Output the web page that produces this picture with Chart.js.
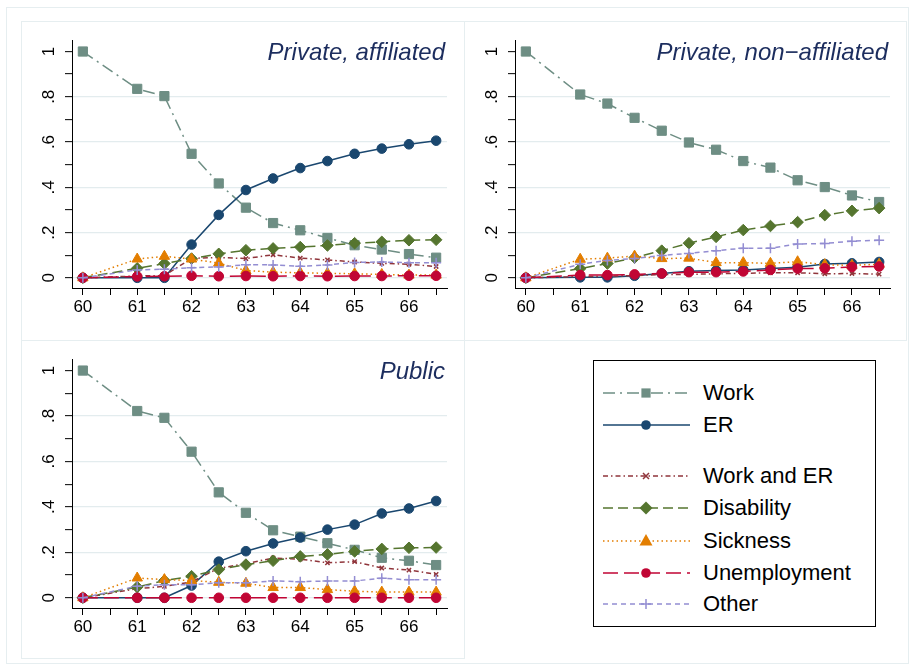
<!DOCTYPE html>
<html>
<head>
<meta charset="utf-8">
<script src="https://cdn.jsdelivr.net/npm/chart.js@4.4.0/dist/chart.umd.min.js"></script>
<style>
  body { margin: 0; background: #fff; font-family: "Liberation Sans", Arial, sans-serif; }
  #page { position: relative; width: 910px; height: 669px; overflow: hidden; }
  .frame { position: absolute; border: 1px solid #e6eef0; box-sizing: border-box; }
  canvas { position: absolute; }
  .ptitle { position: absolute; font-style: italic; font-size: 24px; color: #1c2d5e; white-space: nowrap; text-align: right; line-height: 24px; }
  #legend { position: absolute; left: 593px; top: 360px; width: 283px; height: 267px; border: 1px solid #000; box-sizing: border-box; }
  .lrow { position: absolute; left: 8px; height: 24px; }
  .lrow svg { position: absolute; left: 0; top: 0; }
  .lrow span { position: absolute; left: 101px; top: 0; font-size: 22px; line-height: 24px; color: #000; white-space: nowrap; }
</style>
</head>
<body>
<div id="page">
  <div class="frame" style="left:6px; top:7px; width:903px; height:657px;"></div>
  <div class="frame" style="left:21px; top:21px; width:444px; height:320px;"></div>
  <div class="frame" style="left:464px; top:21px; width:443px; height:320px;"></div>
  <div class="frame" style="left:21px; top:340px; width:444px; height:319px;"></div>

  <canvas id="c1" width="444" height="319" style="left:20px; top:21px;"></canvas>
  <canvas id="c2" width="441" height="319" style="left:464px; top:21px;"></canvas>
  <canvas id="c3" width="444" height="320" style="left:20px; top:340px;"></canvas>

  <div class="ptitle" style="right:465px; top:40px;">Private, affiliated</div>
  <div class="ptitle" style="right:22px; top:40px;">Private, non−affiliated</div>
  <div class="ptitle" style="right:465px; top:359px;">Public</div>

  <div id="legend"></div>
</div>

<script>
// ages on the x axis
const ages = [60, 61, 61.5, 62, 62.5, 63, 63.5, 64, 64.5, 65, 65.5, 66, 66.5];
const xTickLabels = [60, 61, 62, 63, 64, 65, 66];
const yTickLabels = {0: '0', 2: '.2', 4: '.4', 6: '.6', 8: '.8', 10: '1'};

const seriesNames = ['Work', 'ER', 'Work and ER', 'Disability', 'Sickness', 'Unemployment', 'Other'];

// Private, affiliated
const affWork    = [1, 0.835, 0.803, 0.548, 0.417, 0.310, 0.242, 0.210, 0.176, 0.144, 0.125, 0.105, 0.089];
const affER      = [0, 0, 0, 0.147, 0.278, 0.388, 0.439, 0.485, 0.516, 0.548, 0.571, 0.590, 0.606];
const affWorkER  = [0, 0.008, 0.01, 0.086, 0.09, 0.085, 0.102, 0.087, 0.079, 0.070, 0.064, 0.060, 0.050];
const affDisab   = [0, 0.042, 0.063, 0.085, 0.106, 0.122, 0.130, 0.136, 0.143, 0.153, 0.159, 0.166, 0.168];
const affSick    = [0, 0.083, 0.095, 0.083, 0.065, 0.032, 0.025, 0.022, 0.020, 0.018, 0.015, 0.012, 0.012];
const affUnemp   = [0, 0.006, 0.007, 0.009, 0.007, 0.008, 0.007, 0.008, 0.007, 0.008, 0.008, 0.009, 0.009];
const affOther   = [0, 0.035, 0.038, 0.045, 0.048, 0.058, 0.057, 0.051, 0.057, 0.068, 0.070, 0.067, 0.067];

// Private, non-affiliated
const nonWork    = [1, 0.81, 0.770, 0.707, 0.650, 0.598, 0.566, 0.516, 0.487, 0.431, 0.401, 0.364, 0.335];
const nonER      = [0, 0.002, 0.002, 0.009, 0.019, 0.029, 0.032, 0.035, 0.041, 0.047, 0.061, 0.064, 0.070];
const nonWorkER  = [0, 0.005, 0.007, 0.010, 0.015, 0.015, 0.018, 0.020, 0.022, 0.022, 0.018, 0.019, 0.016];
const nonDisab   = [0, 0.041, 0.063, 0.089, 0.120, 0.153, 0.181, 0.211, 0.229, 0.246, 0.277, 0.296, 0.308];
const nonSick    = [0, 0.082, 0.087, 0.096, 0.085, 0.087, 0.067, 0.067, 0.064, 0.071, 0.058, 0.055, 0.060];
const nonUnemp   = [0, 0.012, 0.012, 0.015, 0.019, 0.025, 0.025, 0.028, 0.035, 0.041, 0.042, 0.048, 0.050];
const nonOther   = [0, 0.060, 0.077, 0.085, 0.099, 0.108, 0.120, 0.131, 0.131, 0.149, 0.152, 0.162, 0.166];

// Public
const pubWork    = [1, 0.822, 0.792, 0.643, 0.464, 0.374, 0.297, 0.269, 0.240, 0.211, 0.176, 0.163, 0.144];
const pubER      = [0, 0, 0, 0.054, 0.159, 0.205, 0.239, 0.265, 0.300, 0.322, 0.371, 0.393, 0.426];
const pubWorkER  = [0, 0.04, 0.05, 0.07, 0.13, 0.15, 0.175, 0.17, 0.154, 0.159, 0.131, 0.122, 0.103];
const pubDisab   = [0, 0.047, 0.076, 0.095, 0.124, 0.146, 0.163, 0.182, 0.191, 0.204, 0.215, 0.220, 0.221];
const pubSick    = [0, 0.087, 0.080, 0.076, 0.068, 0.064, 0.045, 0.045, 0.036, 0.029, 0.025, 0.025, 0.025];
const pubUnemp   = [0, 0, 0, 0, 0, 0, 0, 0, 0, 0, 0, 0, 0];
const pubOther   = [0, 0.051, 0.057, 0.057, 0.066, 0.066, 0.074, 0.071, 0.074, 0.074, 0.086, 0.079, 0.079];

// stata s2color look
const styles = [
  {color: '#6e8e84', dash: [12, 5, 2, 5], point: 'rect', r: 6.5, bw: 1},
  {color: '#1a476f', dash: [], point: 'circle', r: 4.8, bw: 1},
  {color: '#90353b', dash: [5, 3, 1.5, 3], point: 'crossRot', r: 3, bw: 1.5},
  {color: '#55752f', dash: [10, 5], point: 'rectRot', r: 5.8, bw: 1},
  {color: '#e37e00', dash: [1.5, 3], point: 'triangle', r: 6, bw: 1},
  {color: '#c10534', dash: [15, 6], point: 'circle', r: 4.8, bw: 1},
  {color: '#938dd2', dash: [5, 4], point: 'cross', r: 5, bw: 1.5}
];

const font = {family: '"Liberation Sans", Arial, sans-serif', size: 17};

function makePanel(id, series, pad) {
  const datasets = series.map((vals, i) => ({
    label: seriesNames[i],
    data: vals.map((v, k) => ({x: ages[k], y: v})),
    borderColor: styles[i].color,
    borderWidth: 1.5,
    borderDash: styles[i].dash,
    backgroundColor: styles[i].color,
    pointStyle: styles[i].point,
    pointRadius: styles[i].r,
    pointBackgroundColor: styles[i].color,
    pointBorderColor: styles[i].color,
    pointBorderWidth: styles[i].bw,
    tension: 0,
    fill: false,
    clip: false,
    order: series.length - i
  }));

  new Chart(document.getElementById(id), {
    type: 'line',
    data: {datasets: datasets},
    options: {
      responsive: false,
      animation: false,
      devicePixelRatio: 1,
      layout: {padding: pad},
      plugins: {legend: {display: false}, tooltip: {enabled: false}},
      scales: {
        x: {
          type: 'linear',
          min: 59.8,
          max: 66.7,
          afterFit: s => { s.height = 30; },
          border: {color: '#000', width: 1},
          grid: {drawOnChartArea: false, tickLength: 7, tickColor: '#000', tickWidth: 1},
          ticks: {
            stepSize: 0.5, maxTicksLimit: 20, includeBounds: false, autoSkip: false,
            maxRotation: 0, minRotation: 0, padding: 2, color: '#000', font: font,
            callback: v => xTickLabels.includes(v) ? String(v) : ''
          }
        },
        y: {
          min: -0.045,
          max: 1.05,
          afterFit: s => { s.width = 40; },
          border: {color: '#000', width: 1},
          grid: {
            tickLength: 7, tickColor: '#000', tickWidth: 1, lineWidth: 1.3,
            color: c => {
              const k = Math.round(c.tick.value * 10);
              return (k % 2 === 0 && k < 10) ? '#e3ecee' : 'rgba(0,0,0,0)';
            }
          },
          ticks: {
            stepSize: 0.1, maxTicksLimit: 20, includeBounds: false, autoSkip: false,
            minRotation: 90, maxRotation: 90, crossAlign: 'center', padding: 9,
            color: '#000', font: font,
            callback: v => {
              const k = Math.round(v * 10);
              return yTickLabels[k] !== undefined ? yTickLabels[k] : '';
            }
          }
        }
      }
    }
  });
}

makePanel('c1', [affWork, affER, affWorkER, affDisab, affSick, affUnemp, affOther],
  {left: 12, top: 18, right: 17, bottom: 22});
makePanel('c2', [nonWork, nonER, nonWorkER, nonDisab, nonSick, nonUnemp, nonOther],
  {left: 11, top: 18, right: 15, bottom: 22});
makePanel('c3', [pubWork, pubER, pubWorkER, pubDisab, pubSick, pubUnemp, pubOther],
  {left: 12, top: 17, right: 17, bottom: 22});

// legend built as html, line samples in svg
function markerSvg(st, cx, cy) {
  const c = st.color;
  if (st.point === 'rect') return `<rect x="${cx - 4.6}" y="${cy - 4.6}" width="9.2" height="9.2" fill="${c}"/>`;
  if (st.point === 'circle') return `<circle cx="${cx}" cy="${cy}" r="${st.r}" fill="${c}"/>`;
  if (st.point === 'rectRot') return `<polygon points="${cx},${cy - 6.5} ${cx + 6.5},${cy} ${cx},${cy + 6.5} ${cx - 6.5},${cy}" fill="${c}"/>`;
  if (st.point === 'triangle') return `<polygon points="${cx},${cy - 7} ${cx + 6.5},${cy + 4.5} ${cx - 6.5},${cy + 4.5}" fill="${c}"/>`;
  if (st.point === 'crossRot') return `<path d="M${cx - 3} ${cy - 3}L${cx + 3} ${cy + 3}M${cx + 3} ${cy - 3}L${cx - 3} ${cy + 3}" stroke="${c}" stroke-width="1.5"/>`;
  return `<path d="M${cx - 5} ${cy}L${cx + 5} ${cy}M${cx} ${cy - 5}L${cx} ${cy + 5}" stroke="${c}" stroke-width="1.5"/>`;
}

const rowTops = [20, 52, 103, 135, 168, 200, 231];
const legend = document.getElementById('legend');
seriesNames.forEach((name, i) => {
  const st = styles[i];
  const row = document.createElement('div');
  row.className = 'lrow';
  row.style.top = rowTops[i] + 'px';
  const dash = st.dash.length ? `stroke-dasharray="${st.dash.join(' ')}"` : '';
  row.innerHTML = `<svg width="90" height="24"><line x1="1" y1="12" x2="88" y2="12" stroke="${st.color}" stroke-width="1.5" ${dash}/>${markerSvg(st, 44, 12)}</svg><span>${name}</span>`;
  legend.appendChild(row);
});
</script>
</body>
</html>
